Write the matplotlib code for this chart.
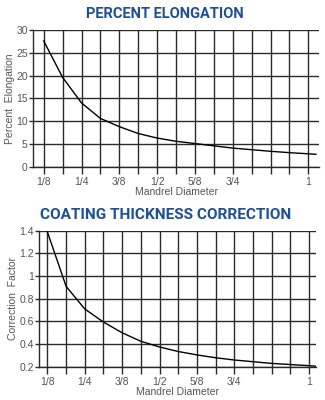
import matplotlib
matplotlib.use("Agg")
from matplotlib import pyplot as plt

# mandrel diameter (inches), one point per 1/16 grid line
diameter = [2/16, 3/16, 4/16, 5/16, 6/16, 7/16, 8/16, 9/16, 10/16, 11/16,
            12/16, 13/16, 14/16, 15/16, 16/16, 1.025]
elongation = [27.6, 19.6, 14.0, 10.6, 8.8, 7.3, 6.3, 5.6, 5.1, 4.6,
              4.1, 3.75, 3.4, 3.1, 2.85, 2.75]
correction = [1.39, 0.91, 0.71, 0.595, 0.50, 0.425, 0.375, 0.335, 0.305, 0.28,
              0.26, 0.245, 0.23, 0.22, 0.21, 0.205]

x_ticks = [i / 16 for i in range(2, 17)]
x_labels = ["1/8", "", "1/4", "", "3/8", "", "1/2", "", "5/8", "", "3/4", "", "", "", "1"]

title_color = "#1b4f9f"
text_color = "#555555"
grid_color = "#2a2a2a"

plt.rcParams["font.family"] = ["Liberation Sans", "DejaVu Sans"]

fig = plt.figure(figsize=(3.25, 4), dpi=100)


def style_axes(ax, values, xlim, ylim, yticks, ylabels, ylabel):
    ax.plot(diameter, values, color="black", lw=1.0, zorder=3)
    ax.set_xlim(*xlim)
    ax.set_ylim(*ylim)
    ax.set_xticks(x_ticks)
    ax.set_xticklabels(x_labels)
    ax.set_yticks(yticks)
    ax.set_yticklabels(ylabels)
    ax.grid(True, color=grid_color, lw=1.0)
    for s in ["top", "right"]:
        ax.spines[s].set_visible(False)
    for s in ["left", "bottom"]:
        ax.spines[s].set_color(grid_color)
        ax.spines[s].set_linewidth(1.0)
    ax.tick_params(axis="x", length=5, width=1.0, color=grid_color,
                   labelsize=7.5, labelcolor=text_color, pad=2)
    ax.tick_params(axis="y", length=3, width=1.0, color=grid_color,
                   labelsize=7.5, labelcolor=text_color, pad=1)
    ax.set_xlabel("Mandrel Diameter", fontsize=7.5, color=text_color, labelpad=0)
    ax.set_ylabel(ylabel, fontsize=7.5, color=text_color, labelpad=1)


ax1 = fig.add_axes([0.1025, 0.583, 0.879, 0.342])
style_axes(ax1, elongation, (0.0906, 1.035), (0, 30), [0, 5, 10, 15, 20, 25, 30],
           ["0", "5", "10", "15", "20", "25", "30"], "Percent  Elongation")

ax2 = fig.add_axes([0.121, 0.083, 0.851, 0.34])
style_axes(ax2, correction, (0.098, 1.023), (0.2, 1.4), [0.2, 0.4, 0.6, 0.8, 1.0, 1.2, 1.4],
           ["0.2", "0.4", "0.6", "0.8", "1", "1.2", "1.4"], "Correction  Factor")

fig.text(0.508, 0.966, "PERCENT ELONGATION", ha="center", va="center",
         fontsize=10.5, fontweight="bold", color=title_color, family="Roboto")
fig.text(0.51, 0.462, "COATING THICKNESS CORRECTION", ha="center", va="center",
         fontsize=11.1, fontweight="bold", color=title_color, family="Roboto")

fig.savefig("out.png", dpi=100)
